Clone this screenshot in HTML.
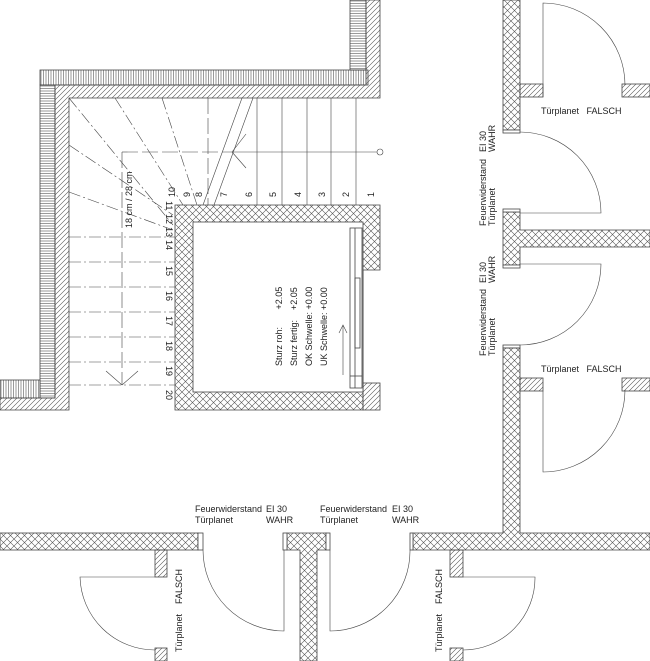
<!DOCTYPE html>
<html><head><meta charset="utf-8"><style>
html,body{margin:0;padding:0;background:#fff;}
svg{display:block;}
text{font-family:"Liberation Sans",sans-serif;font-size:9px;fill:#222;}
</style></head><body>
<svg width="650" height="661" viewBox="0 0 650 661" xmlns="http://www.w3.org/2000/svg">
<defs>
<pattern id="cx" width="7" height="7" patternUnits="userSpaceOnUse">
<path d="M0,0L7,7M7,0L0,7" stroke="#555" stroke-width="0.6"/>
</pattern>
<pattern id="dg" width="5" height="5" patternUnits="userSpaceOnUse">
<path d="M-1,6L6,-1M-1,1L1,-1M4,6L6,4" stroke="#555" stroke-width="0.6"/>
</pattern>
<pattern id="vs" width="2.5" height="10" patternUnits="userSpaceOnUse">
<path d="M1,0V10" stroke="#555" stroke-width="0.6"/>
</pattern>
<pattern id="hs" width="10" height="2.5" patternUnits="userSpaceOnUse">
<path d="M0,1H10" stroke="#555" stroke-width="0.6"/>
</pattern>
</defs>
<g stroke="#444" stroke-width="0.8">
<rect x="40" y="70" width="328" height="15" fill="url(#vs)"/>
<rect x="350" y="0" width="16" height="70" fill="url(#hs)"/>
<rect x="40" y="85" width="15" height="313" fill="url(#hs)"/>
<rect x="0" y="380" width="40" height="18" fill="url(#vs)"/>
<path d="M55,85H366V0H380V98H69V410H0V398H55Z" fill="url(#dg)"/>
<path d="M175,205H380V270H363V410H175Z" fill="url(#cx)"/>
<rect x="363" y="383" width="17" height="27" fill="url(#dg)"/>
<rect x="193" y="222" width="170" height="170" fill="#fff"/>
<rect x="350" y="228" width="12" height="160" fill="#fff"/>
<line x1="355" y1="228" x2="355" y2="388"/>
<rect x="355" y="278" width="5" height="70" fill="none"/>
<line x1="350" y1="376" x2="362" y2="376"/>
<g stroke-width="0.6">
<line x1="257" y1="98" x2="257" y2="205"/><line x1="282" y1="98" x2="282" y2="205"/>
<line x1="307" y1="98" x2="307" y2="205"/><line x1="331" y1="98" x2="331" y2="205"/>
<line x1="356" y1="98" x2="356" y2="205"/>
<line x1="242" y1="98" x2="203" y2="205"/><line x1="253" y1="98" x2="214" y2="205"/>
<line x1="232" y1="152" x2="380" y2="152"/>
<line x1="232" y1="152" x2="246" y2="134"/><line x1="232" y1="152" x2="246" y2="168"/>
</g>
<circle cx="380" cy="152" r="3" fill="#fff" stroke-width="0.6"/>
<g stroke-width="0.6" stroke-dasharray="12,3,2,3" fill="none">
<line x1="69" y1="98" x2="173" y2="225"/>
<line x1="69" y1="145" x2="173" y2="215"/>
<line x1="69" y1="192" x2="173" y2="230"/>
<line x1="115" y1="98" x2="183" y2="205"/>
<line x1="162" y1="98" x2="197" y2="205"/>
<line x1="69" y1="237" x2="175" y2="237"/><line x1="69" y1="262" x2="175" y2="262"/>
<line x1="69" y1="287" x2="175" y2="287"/><line x1="69" y1="312" x2="175" y2="312"/>
<line x1="69" y1="337" x2="175" y2="337"/><line x1="69" y1="362" x2="175" y2="362"/>
<line x1="69" y1="385" x2="175" y2="385"/>
</g>
<g stroke-width="0.6" stroke-dasharray="16,4" fill="none">
<line x1="208" y1="98" x2="208" y2="205"/>
<line x1="122" y1="152" x2="232" y2="152"/>
<line x1="122" y1="152" x2="122" y2="385"/>
</g>
<line x1="122" y1="385" x2="106" y2="371" stroke-width="0.6"/><line x1="122" y1="385" x2="138" y2="371" stroke-width="0.6"/>
<line x1="343" y1="375" x2="343" y2="325" stroke-width="0.6"/>
<path d="M339,333L343,325L347,333" fill="none" stroke-width="0.6"/>

<rect x="503" y="0" width="17" height="130" fill="url(#cx)"/>
<rect x="503" y="130" width="17" height="3" fill="#fff"/>
<path d="M503,212H520V230H650V247H520V265H503Z" fill="url(#cx)"/>
<rect x="503" y="209" width="17" height="3" fill="#fff"/>
<rect x="503" y="265" width="17" height="3" fill="#fff"/>
<rect x="503" y="345" width="17" height="3" fill="#fff"/>
<path d="M503,348H520V533H650V550H413V533H503Z" fill="url(#cx)"/>
<rect x="410" y="533" width="3" height="17" fill="#fff"/>
<path d="M520,132A81,81 0 0 1 601,213H520" fill="none" stroke-width="0.6"/>
<path d="M520,345A81,81 0 0 0 601,264H520" fill="none" stroke-width="0.6"/>
<rect x="520" y="84" width="23" height="13" fill="url(#dg)"/>
<rect x="622" y="84" width="28" height="13" fill="url(#dg)"/>
<path d="M543,97V3A82,82 0 0 1 625,85" fill="none" stroke-width="0.6"/>
<rect x="520" y="378" width="23" height="13" fill="url(#dg)"/>
<rect x="622" y="378" width="28" height="13" fill="url(#dg)"/>
<path d="M543,391V472A82,82 0 0 0 625,390" fill="none" stroke-width="0.6"/>

<rect x="0" y="533" width="198" height="17" fill="url(#cx)"/>
<rect x="198" y="533" width="5" height="17" fill="#fff"/>
<path d="M287,533H326V550H317V661H300V550H287Z" fill="url(#cx)"/>
<rect x="283" y="533" width="4" height="17" fill="#fff"/>
<rect x="326" y="533" width="4" height="17" fill="#fff"/>
<path d="M203,550A81,81 0 0 0 284,631V550" fill="none" stroke-width="0.6"/>
<path d="M410,550A80,80 0 0 1 330,631V550" fill="none" stroke-width="0.6"/>
<rect x="155" y="550" width="12" height="27" fill="url(#dg)"/>
<rect x="155" y="648" width="12" height="13" fill="url(#dg)"/>
<path d="M155,577H80A75,75 0 0 0 155,650" fill="none" stroke-width="0.6"/>
<rect x="450" y="550" width="13" height="27" fill="url(#dg)"/>
<rect x="450" y="648" width="13" height="13" fill="url(#dg)"/>
<path d="M463,577H535A72,72 0 0 1 463,650" fill="none" stroke-width="0.6"/>
</g>

<g style="font-size:5px">
<text transform="translate(175,197) rotate(-90)">10</text>
<text transform="translate(190,197) rotate(-90)">9</text>
<text transform="translate(202,197) rotate(-90)">8</text>
<text transform="translate(227,197) rotate(-90)">7</text>
<text transform="translate(252,197) rotate(-90)">6</text>
<text transform="translate(276,197) rotate(-90)">5</text>
<text transform="translate(301,197) rotate(-90)">4</text>
<text transform="translate(325,197) rotate(-90)">3</text>
<text transform="translate(349,197) rotate(-90)">2</text>
<text transform="translate(374,197) rotate(-90)">1</text>
<text transform="translate(166,201) rotate(90)">11</text>
<text transform="translate(166,214) rotate(90)">12</text>
<text transform="translate(166,227) rotate(90)">13</text>
<text transform="translate(166,240) rotate(90)">14</text>
<text transform="translate(166,266) rotate(90)">15</text>
<text transform="translate(166,291) rotate(90)">16</text>
<text transform="translate(166,316) rotate(90)">17</text>
<text transform="translate(166,341) rotate(90)">18</text>
<text transform="translate(166,366) rotate(90)">19</text>
<text transform="translate(166,390) rotate(90)">20</text>
<text transform="translate(132,228) rotate(-90)">18 cm / 28 cm</text>
</g>
<g>
<text transform="translate(282,366) rotate(-90)" xml:space="preserve">Sturz roh:       +2.05</text>
<text transform="translate(297,366) rotate(-90)" xml:space="preserve">Sturz fertig:    +2.05</text>
<text transform="translate(312,366) rotate(-90)">OK Schwelle: +0.00</text>
<text transform="translate(327,366) rotate(-90)">UK Schwelle: +0.00</text>

<text x="541" y="114" xml:space="preserve">Türplanet   FALSCH</text>
<text x="541" y="372" xml:space="preserve">Türplanet   FALSCH</text>
<text transform="translate(486,226) rotate(-90)">Feuerwiderstand</text>
<text transform="translate(495,226) rotate(-90)">Türplanet</text>
<text transform="translate(486,152) rotate(-90)">EI 30</text>
<text transform="translate(495,152) rotate(-90)">WAHR</text>
<text transform="translate(486,356) rotate(-90)">Feuerwiderstand</text>
<text transform="translate(495,356) rotate(-90)">Türplanet</text>
<text transform="translate(486,283) rotate(-90)">EI 30</text>
<text transform="translate(495,283) rotate(-90)">WAHR</text>

<text x="195" y="512">Feuerwiderstand</text><text x="266" y="512">EI 30</text>
<text x="195" y="523">Türplanet</text><text x="266" y="523">WAHR</text>
<text x="320" y="512">Feuerwiderstand</text><text x="392" y="512">EI 30</text>
<text x="320" y="523">Türplanet</text><text x="392" y="523">WAHR</text>

<text transform="translate(182,652) rotate(-90)" xml:space="preserve">Türplanet    FALSCH</text>
<text transform="translate(442,652) rotate(-90)" xml:space="preserve">Türplanet    FALSCH</text>
</g>
</svg>
</body></html>
